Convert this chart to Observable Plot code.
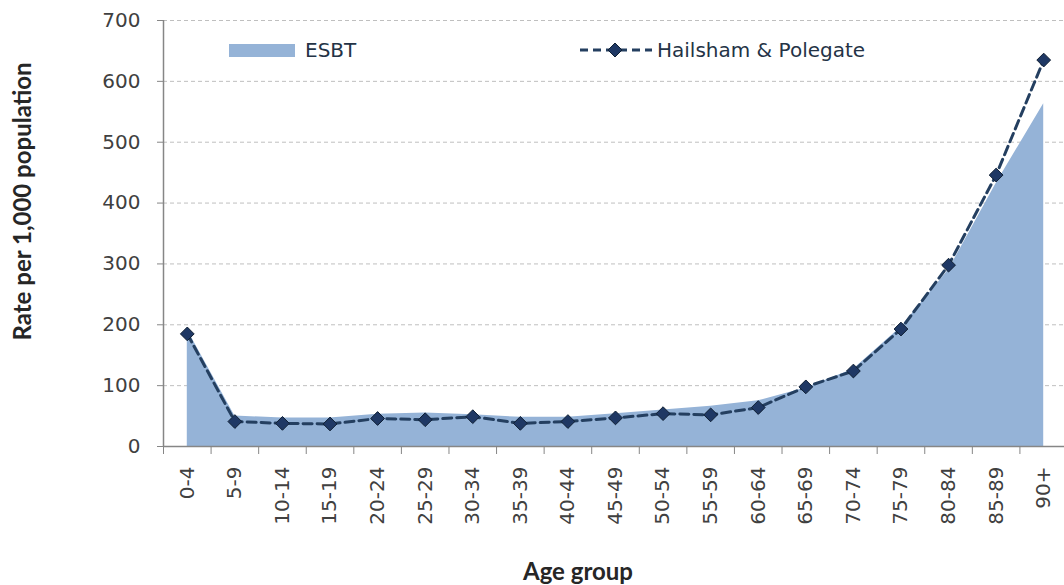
<!DOCTYPE html>
<html>
<head>
<meta charset="utf-8">
<script src="https://cdn.jsdelivr.net/npm/d3@7"></script>
<script src="https://cdn.jsdelivr.net/npm/@observablehq/plot@0.6"></script>
<style>
  html, body { margin: 0; padding: 0; background: #fff; }
  #wrap { position: relative; width: 1064px; height: 585px; }
  #chart svg { display: block; }
  .legend { position: absolute; font-family: "DejaVu Sans", sans-serif; font-size: 20px; color: #243346; display: flex; align-items: center; }
</style>
</head>
<body>
<div id="wrap">
  <div id="chart"></div>
  <div class="legend" style="left:229px; top:36px; height:28px;">
    <span style="display:inline-block;width:66px;height:13px;background:#95B3D7;margin-right:10px;"></span>ESBT
  </div>
  <div class="legend" style="left:578px; top:36px; height:28px;">
    <svg width="76" height="20" style="margin-right:3px;">
      <line x1="2" y1="10" x2="74" y2="10" stroke="#243F60" stroke-width="3" stroke-dasharray="8,5"></line>
      <path d="M37,3 L44,10 L37,17 L30,10 Z" fill="#1F3864" stroke="#0F1F33" stroke-width="1"></path>
    </svg>Hailsham &amp; Polegate
  </div>
</div>
<script>
const ageGroups = ["0-4","5-9","10-14","15-19","20-24","25-29","30-34","35-39","40-44","45-49","50-54","55-59","60-64","65-69","70-74","75-79","80-84","85-89","90+"];
const esbt = [192, 50, 47, 47, 53, 55, 52, 48, 48, 54, 60, 66, 75, 96, 127, 196, 290, 432, 563];
const hailsham = [185, 41, 38, 37, 46, 44, 49, 38, 41, 47, 54, 52, 64, 98, 124, 193, 298, 446, 635];
const yTicks = [0, 100, 200, 300, 400, 500, 600, 700];
const yTitle = "Rate per 1,000 population";
const xTitle = "Age group";

const rows = ageGroups.map((g, i) => ({i, group: g, esbt: esbt[i], hailsham: hailsham[i]}));
const titleStyle = {fontFamily: "Lato, 'Open Sans', sans-serif", fontWeight: "bold", fontSize: 24, fill: "#262626"};

const chart = Plot.plot({
  width: 1064,
  height: 585,
  marginLeft: 163,
  marginRight: 0,
  marginTop: 20,
  marginBottom: 139,
  style: {fontFamily: "'DejaVu Sans', sans-serif", fontSize: "20px", color: "#404040", background: "#fff"},
  x: {domain: [-0.5, 18.5], range: [163, 1067]},
  y: {domain: [0, 700]},
  marks: [
    Plot.ruleY(yTicks.filter(d => d > 0), {stroke: "#BFBFBF", strokeWidth: 1, strokeDasharray: "4,3"}),
    Plot.areaY(rows, {x: "i", y: "esbt", fill: "#95B3D7"}),
    Plot.lineY(rows, {x: "i", y: "hailsham", stroke: "#243F60", strokeWidth: 3, strokeDasharray: "9,5", curve: "linear"}),
    Plot.dot(rows, {x: "i", y: "hailsham", symbol: "diamond2", r: 6.2, fill: "#1F3864", stroke: "#0F1F33", strokeWidth: 1}),
    Plot.axisY({ticks: yTicks, tickSize: 6, tickPadding: 17, stroke: "#868686", label: null}),
    Plot.ruleX([-0.5], {stroke: "#868686", strokeWidth: 1.5}),
    Plot.ruleY([0], {stroke: "#868686", strokeWidth: 1.5}),
    Plot.axisX({ticks: d3.range(-0.5, 19, 1), tickSize: 8, tickFormat: () => "", stroke: "#868686", label: null}),
    Plot.axisX({ticks: d3.range(0, 19), tickSize: 0, tickPadding: 20, tickRotate: -90, tickFormat: i => ageGroups[i], label: null}),
    Plot.text([yTitle], {text: d => d, frameAnchor: "left", textAnchor: "middle", rotate: -90, lineAnchor: "top", dx: -150, dy: -32, ...titleStyle}),
    Plot.text([xTitle], {text: d => d, frameAnchor: "bottom", textAnchor: "middle", lineAnchor: "bottom", dx: -36, dy: 133, ...titleStyle})
  ]
});
document.getElementById("chart").appendChild(chart);
</script>
</body>
</html>
